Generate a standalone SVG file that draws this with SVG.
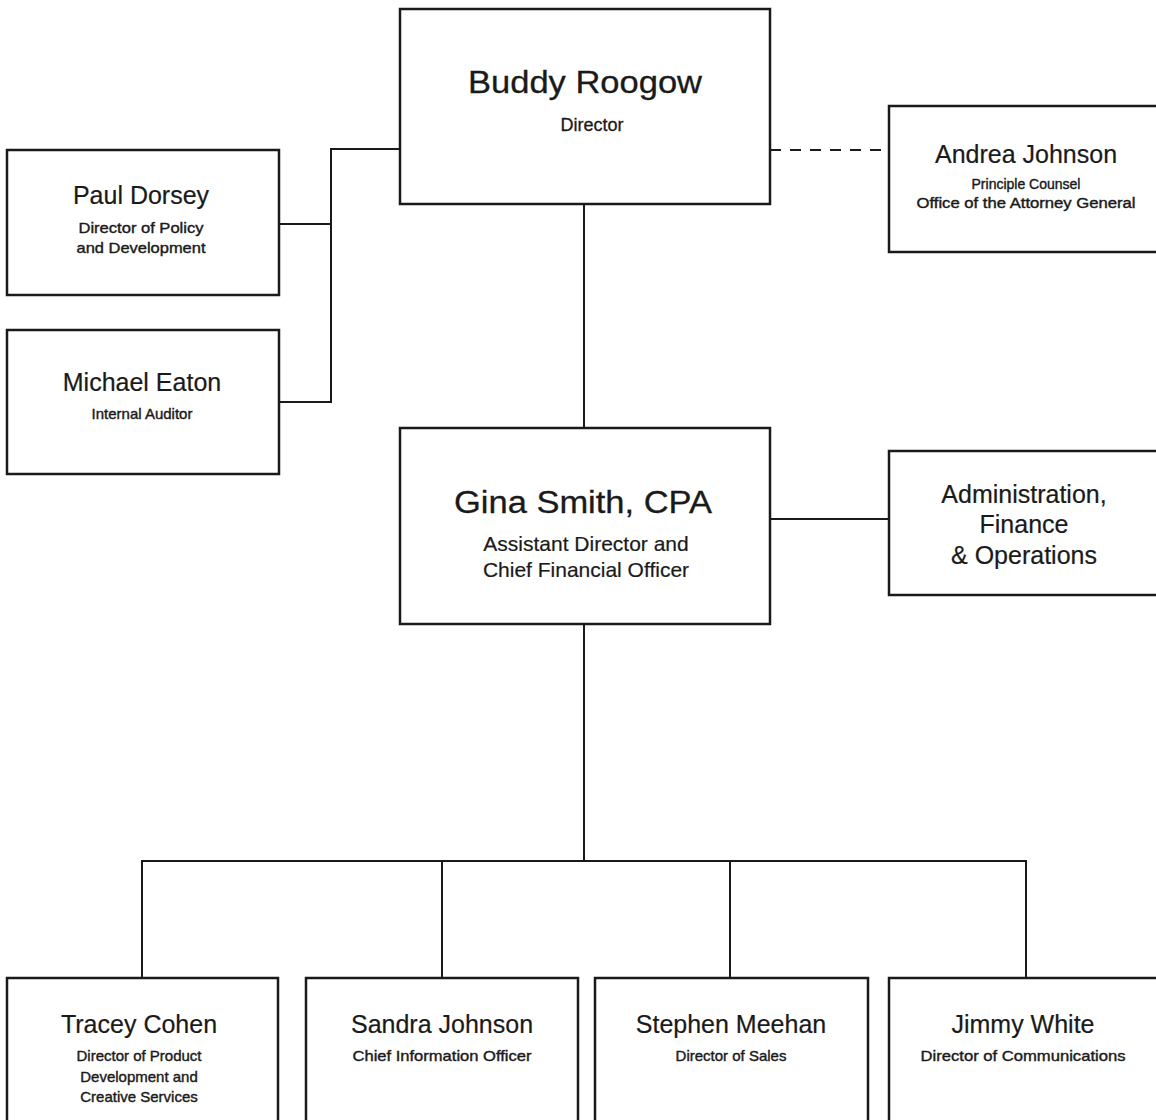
<svg xmlns="http://www.w3.org/2000/svg" width="1156" height="1120" viewBox="0 0 1156 1120">
<style>
.box{fill:#fff;stroke:#1a1a1a;stroke-width:2.5}
.ln{fill:none;stroke:#1a1a1a;stroke-width:2}
.dash{fill:none;stroke:#1a1a1a;stroke-width:2;stroke-dasharray:11 9}
text{font-family:"Liberation Sans",Arial,Helvetica,sans-serif;fill:#1a1a1a;text-anchor:middle}
.big{font-size:31px;stroke:#1a1a1a;stroke-width:0.3}
.name{font-size:25px;stroke:#1a1a1a;stroke-width:0.2}
.sub{font-size:15px;stroke:#1a1a1a;stroke-width:0.4}
.sm{font-size:14px;stroke:#1a1a1a;stroke-width:0.4}
.mid{font-size:21px;stroke:#1a1a1a;stroke-width:0.2}
</style>
<rect width="1156" height="1120" fill="#fff"/>
<g id="connectors">
<path class="ln" d="M400,149 H331 V402 H279 M279,224 H331"/>
<path class="ln" d="M584,204 V428"/>
<path class="dash" d="M770,150 H889"/>
<path class="ln" d="M770,519 H889"/>
<path class="ln" d="M584,624 V861 M142,978 V861 H1026 V978 M442,861 V978 M730,861 V978"/>
</g>
<g id="buddy">
<rect class="box" x="400" y="9" width="370" height="195"/>
<text class="big" x="585" y="93" textLength="234" lengthAdjust="spacingAndGlyphs">Buddy Roogow</text>
<text x="592" y="131" style="font-size:18px;stroke:#1a1a1a;stroke-width:0.3">Director</text>
</g>
<g id="andrea">
<rect class="box" x="889" y="106" width="290" height="146"/>
<text class="name" x="1026" y="163">Andrea Johnson</text>
<text class="sm" x="1026" y="189">Principle Counsel</text>
<text class="sm" x="1026" y="208" textLength="219" lengthAdjust="spacingAndGlyphs">Office of the Attorney General</text>
</g>
<g id="paul">
<rect class="box" x="7" y="150" width="272" height="145"/>
<text class="name" x="141" y="204">Paul Dorsey</text>
<text class="sub" x="141" y="233" textLength="125" lengthAdjust="spacingAndGlyphs">Director of Policy</text>
<text class="sub" x="141" y="253" textLength="129" lengthAdjust="spacingAndGlyphs">and Development</text>
</g>
<g id="michael">
<rect class="box" x="7" y="330" width="272" height="144"/>
<text class="name" x="142" y="391">Michael Eaton</text>
<text class="sub" x="142" y="419">Internal Auditor</text>
</g>
<g id="gina">
<rect class="box" x="400" y="428" width="370" height="196"/>
<text class="big" x="583" y="513" textLength="258" lengthAdjust="spacingAndGlyphs">Gina Smith, CPA</text>
<text class="mid" x="586" y="551">Assistant Director and</text>
<text class="mid" x="586" y="577">Chief Financial Officer</text>
</g>
<g id="admin">
<rect class="box" x="889" y="451" width="290" height="144"/>
<text class="name" x="1024" y="503">Administration,</text>
<text class="name" x="1024" y="533">Finance</text>
<text class="name" x="1024" y="564">&amp; Operations</text>
</g>
<g id="tracey">
<rect class="box" x="7" y="978" width="271" height="160"/>
<text class="name" x="139" y="1033">Tracey Cohen</text>
<text class="sub" x="139" y="1061">Director of Product</text>
<text class="sub" x="139" y="1082">Development and</text>
<text class="sub" x="139" y="1102">Creative Services</text>
</g>
<g id="sandra">
<rect class="box" x="306" y="978" width="272" height="160"/>
<text class="name" x="442" y="1033">Sandra Johnson</text>
<text class="sub" x="442" y="1061" textLength="179" lengthAdjust="spacingAndGlyphs">Chief Information Officer</text>
</g>
<g id="stephen">
<rect class="box" x="595" y="978" width="273" height="160"/>
<text class="name" x="731" y="1033">Stephen Meehan</text>
<text class="sub" x="731" y="1061">Director of Sales</text>
</g>
<g id="jimmy">
<rect class="box" x="889" y="978" width="290" height="160"/>
<text class="name" x="1023" y="1033">Jimmy White</text>
<text class="sub" x="1023" y="1061" textLength="205" lengthAdjust="spacingAndGlyphs">Director of Communications</text>
</g>
</svg>
